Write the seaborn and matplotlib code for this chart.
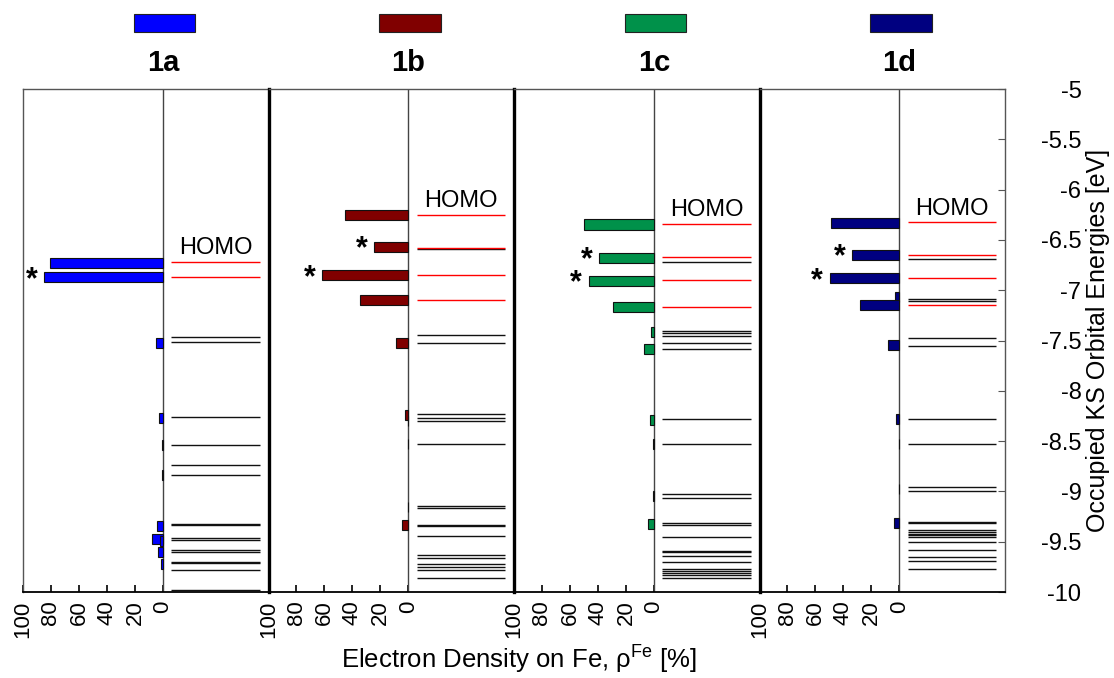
import numpy as np
import matplotlib
matplotlib.use("Agg")
import matplotlib.pyplot as plt
import matplotlib.transforms as mtransforms
from matplotlib.patches import Rectangle
import seaborn as sns

# ---------------- data ----------------
panels = ["1a", "1b", "1c", "1d"]
colors = ["#0000FF", "#800000", "#00914A", "#000080"]

# bars: orbital energy [eV] and electron density on Fe [%]
bar_E_1a = [-6.725, -6.869, -7.525, -8.267, -8.539, -8.834, -9.34, -9.469, -9.49, -9.60, -9.718]
bar_V_1a = [81.0, 84.7, 4.7, 2.9, 0.6, 0.8, 4.0, 7.9, 2.0, 3.6, 1.6]
bar_E_1b = [-6.251, -6.569, -6.852, -7.102, -7.525, -8.237, -8.30, -8.525, -9.155, -9.337]
bar_V_1b = [45.5, 24.3, 61.7, 34.8, 8.6, 2.4, 0.6, 0.3, 0.5, 4.6]
bar_E_1c = [-6.347, -6.678, -6.907, -7.167, -7.418, -7.584, -8.29, -8.531, -9.045, -9.324]
bar_V_1c = [50.3, 39.3, 46.7, 29.0, 2.4, 6.9, 2.6, 0.4, 0.6, 4.0]
bar_E_1d = [-6.33, -6.648, -6.879, -7.068, -7.15, -7.548, -8.283, -8.53, -8.975, -9.314]
bar_V_1d = [48.8, 34.0, 49.8, 2.9, 27.9, 8.1, 2.4, 0.3, 0.5, 3.6]

# starred bars (energies)
star_1a = [-6.869]
star_1b = [-6.569, -6.852]
star_1c = [-6.678, -6.907]
star_1d = [-6.648, -6.879]

# orbital levels: red (Fe-rich frontier orbitals) and black
red_1a = [-6.72, -6.866]
red_1b = [-6.255, -6.577, -6.848, -7.10]
red_1c = [-6.338, -6.67, -6.90, -7.163]
red_1d = [-6.325, -6.646, -6.876, -7.143]

black_1a = [-7.468, -7.515, -8.256, -8.539, -8.738, -8.834, -9.32, -9.335, -9.46, -9.48,
            -9.585, -9.602, -9.70, -9.712, -9.78, -9.977]
black_1b = [-6.59, -7.445, -7.521, -8.227, -8.272, -8.302, -8.525, -9.145, -9.168, -9.33,
            -9.343, -9.443, -9.632, -9.658, -9.722, -9.748, -9.781, -9.858]
black_1c = [-6.72, -7.402, -7.43, -7.455, -7.52, -7.588, -8.283, -8.531, -9.029, -9.062,
            -9.318, -9.33, -9.456, -9.589, -9.602, -9.642, -9.705, -9.775, -9.795, -9.815,
            -9.835, -9.858]
black_1d = [-6.686, -7.09, -7.105, -7.478, -7.55, -8.276, -8.529, -8.955, -8.996, -9.305,
            -9.315, -9.387, -9.403, -9.42, -9.437, -9.453, -9.503, -9.579, -9.655, -9.694,
            -9.768]

x_ticks = [-100, -80, -60, -40, -20, 0]
x_ticklabels = ["100", "80", "60", "40", "20", "0"]
y_ticks = [-5, -5.5, -6, -6.5, -7, -7.5, -8, -8.5, -9, -9.5, -10]

bars_E = [bar_E_1a, bar_E_1b, bar_E_1c, bar_E_1d]
bars_V = [bar_V_1a, bar_V_1b, bar_V_1c, bar_V_1d]
stars = [star_1a, star_1b, star_1c, star_1d]
reds = [red_1a, red_1b, red_1c, red_1d]
blacks = [black_1a, black_1b, black_1c, black_1d]

# ---------------- style ----------------
sns.set_theme(style="ticks")
plt.rcParams["font.family"] = ["Liberation Sans", "DejaVu Sans"]
plt.rcParams["axes.unicode_minus"] = False
plt.rcParams["mathtext.fontset"] = "custom"
plt.rcParams["mathtext.rm"] = "Liberation Sans"
plt.rcParams["mathtext.it"] = "Liberation Sans:italic"
for k in ["text.color", "axes.labelcolor", "xtick.color", "ytick.color"]:
    plt.rcParams[k] = "black"

W, H = 1114, 678
fig = plt.figure(figsize=(W / 100, H / 100), dpi=100)

left_px, top_px, bot_px = 23, 89, 592
pw = 245.5
x_right = 75.4

for i, name in enumerate(panels):
    ax = fig.add_axes([(left_px + i * pw) / W, (H - bot_px) / H, pw / W, (bot_px - top_px) / H])
    ax.set_xlim(-100, x_right)
    ax.set_ylim(-10, -5)

    # bars (density on Fe) drawn to the left
    ax.barh(bars_E[i], [-v for v in bars_V[i]], height=0.1, color=colors[i],
            edgecolor="#111111", linewidth=0.8, zorder=3)
    # stars
    for e in stars[i]:
        v = bars_V[i][bars_E[i].index(e)]
        ax.annotate("*", xy=(-v, e), xytext=(-9, -2), textcoords="offset points",
                    ha="center", va="center", fontsize=22, fontweight="bold", zorder=4)
    # levels
    ax.hlines(blacks[i], 6, 69, colors="#111111", linewidth=1.0, zorder=2)
    ax.hlines(reds[i], 6, 69, colors="#FF0000", linewidth=1.0, zorder=2)
    homo = max(reds[i])
    ax.annotate("HOMO", xy=(37.5, homo), xytext=(0, 2), textcoords="offset points",
                ha="center", va="bottom", fontsize=17)

    ax.axvline(0, color="#444444", linewidth=1.0, zorder=1)

    # x ticks
    ax.set_xticks(x_ticks)
    ax.set_xticklabels(x_ticklabels, rotation=90, fontsize=16)
    ax.tick_params(axis="x", direction="in", length=5, width=1.2, pad=6, color="black")

    # spines
    for s in ["top", "right", "left", "bottom"]:
        ax.spines[s].set_color("#555555")
        ax.spines[s].set_linewidth(1.0)
    ax.spines["bottom"].set_color("black")
    ax.spines["bottom"].set_linewidth(1.3)
    if i > 0:
        ax.spines["left"].set_color("black")
        ax.spines["left"].set_linewidth(2.4)
    if i < 3:
        ax.spines["right"].set_visible(False)

    if i == 3:
        ax.yaxis.tick_right()
        ax.set_yticks(y_ticks)
        ax.set_yticklabels(["%g" % t for t in y_ticks], fontsize=17, ha="right")
        ax.tick_params(axis="y", direction="in", length=5, width=0.8, pad=55,
                       left=False, right=True, color="#555555")
        ax.yaxis.set_label_position("right")
        ax.set_ylabel("Occupied KS Orbital Energies [eV]", fontsize=18, labelpad=3)
    else:
        ax.tick_params(axis="y", left=False, right=False, labelleft=False, labelright=False)

    # legend swatch + panel label above
    trans = mtransforms.blended_transform_factory(ax.transData, ax.transAxes)
    ax.add_patch(Rectangle((-20.7, 1.113), 43.6, 0.036, transform=trans, clip_on=False,
                           facecolor=colors[i], edgecolor="#222222", linewidth=0.8))
    ax.text(0, 1.052, name, transform=trans, ha="center", va="center",
            fontsize=21, fontweight="bold")

fig.text(519 / W, 9 / H, "Electron Density on Fe, ρ$^{\\mathrm{Fe}}$ [%]",
         ha="center", va="baseline", fontsize=18.5)

fig.savefig("out.png", dpi=100)
